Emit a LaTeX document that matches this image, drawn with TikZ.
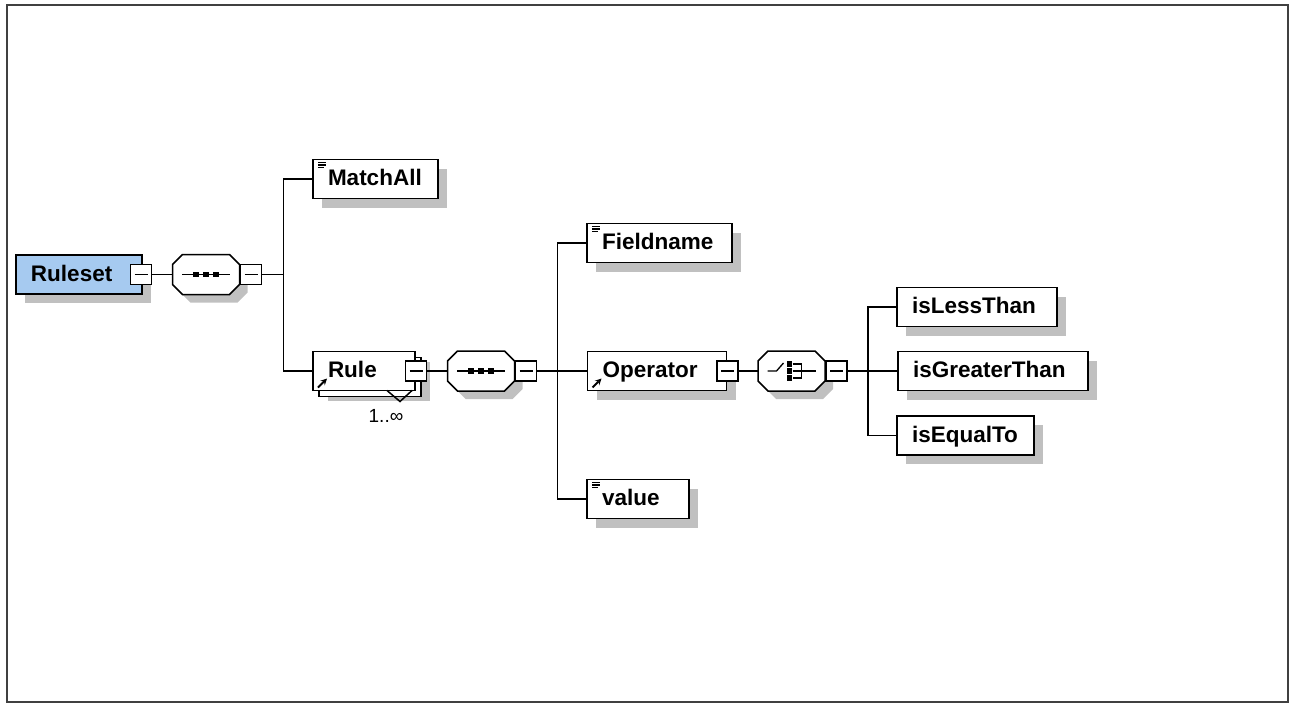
\documentclass[tikz,border=0pt]{standalone}
\usepackage{fontspec}
\setmainfont{Liberation Sans}
\usetikzlibrary{shadows, positioning, arrows}
\definecolor{shadowgray}{RGB}{192,192,192}
\definecolor{rootblue}{RGB}{166,202,240}
\definecolor{framegray}{RGB}{64,64,64}
\newcommand{\octpath}{(-33.5,-10) -- (-23.5,-20) -- (23.5,-20) -- (33.5,-10) -- (33.5,10) -- (23.5,20) -- (-23.5,20) -- (-33.5,10) -- cycle}
\tikzstyle{element} = [rectangle, draw=black, fill=white, line width=1.5pt, outer sep=0pt, minimum height=39pt, inner xsep=0pt, inner ysep=0pt, text height=17pt, text depth=4pt, align=left, font=\bfseries\fontsize{22.5}{24}\selectfont, execute at begin node={\hspace*{15pt}}]
\tikzstyle{shadowed} = [drop shadow={shadow xshift=9pt, shadow yshift=-9pt, fill=shadowgray, opacity=1}]
\tikzstyle{multiple} = [drop shadow={shadow xshift=15pt, shadow yshift=-10pt, fill=shadowgray, opacity=1}, copy shadow={shadow xshift=6pt, shadow yshift=-6pt}]
\tikzstyle{textcontent} = [path picture={\foreach \dy/\len in {3/8,5.5/8,8/6} \draw [line width=1.3pt] ([shift={(5,\dy)}]path picture bounding box.north west) -- ++(\len,0);}]
\tikzstyle{refelement} = [path picture={\draw [line width=1.8pt, ->, >=stealth] ([shift={(5,-3)}]path picture bounding box.south west) -- ++(9,-9);}]
\tikzstyle{expander} = [rectangle, draw=black, fill=white, line width=1.5pt, outer sep=0pt, minimum width=21pt, minimum height=20pt, inner sep=0pt, path picture={\draw [line width=1.2pt] ([xshift=4pt]path picture bounding box.west) -- ([xshift=-4pt]path picture bounding box.east);}]
\tikzstyle{compositor} = [rectangle, outer sep=0pt, minimum width=67pt, minimum height=40pt, inner sep=0pt, append after command={\pgfextra{
  \fill [shadowgray, shift={(\tikzlastnode.center)}, xshift=8pt, yshift=-8pt] \octpath;
  \draw [fill=white, line width=1.5pt, shift={(\tikzlastnode.center)}] \octpath;}}]
\tikzstyle{sequence} = [append after command={\pgfextra{
  \begin{scope}[shift={(\tikzlastnode.center)}]
  \draw [line width=1.3pt] (-24,0) -- (24,0);
  \foreach \dx in {-10,0,10} \fill (\dx-2.7,-2.7) rectangle (\dx+2.7,2.7);
  \end{scope}}}]
\tikzstyle{choiceicon} = [append after command={\pgfextra{
  \begin{scope}[shift={(\tikzlastnode.center)}, line width=1.3pt]
  \draw (-24,0) -- (-15,0) -- (-8,-8);
  \foreach \dy in {-7,0,7} \fill (-4.5,\dy-2.6) rectangle (0.8,\dy+2.6);
  \draw (1,-7) -- (10,-7) -- (10,7) -- (1,7);
  \draw (1,0) -- (24,0);
  \end{scope}}}]
\tikzstyle{connector} = [line width=1.5pt]

\begin{document}
\begin{tikzpicture}[x=1pt, y=-1pt]
\useasboundingbox (0,0) rectangle (1291,704);
\draw [framegray, line width=2.5pt] (7,5) rectangle (1288,702);

\node (ruleset) [element, shadowed, fill=rootblue, text width=126pt] at (79,274.5) {Ruleset};
\node (rulesetbtn) [expander] at ([xshift=-1pt]ruleset.east) {};
\node (seq1) [compositor, sequence, right=21pt of rulesetbtn] {};
\node (seq1btn) [expander, right=1pt of seq1] {};
\coordinate (j1) at ([xshift=22pt]seq1btn.east);

\node (matchall) [element, shadowed, textcontent, text width=125pt, anchor=west] at (313,179) {MatchAll};
\node (rule) [element, multiple, refelement, text width=102pt, anchor=west] at (313,371) {Rule};
\node (rulebtn) [expander] at ([xshift=1pt]rule.east) {};
\node (seq2) [compositor, sequence, right=21pt of rulebtn] {};
\node (seq2btn) [expander, right=1pt of seq2] {};
\coordinate (j2) at ([xshift=21pt]seq2btn.east);

\node (fieldname) [element, shadowed, textcontent, text width=145pt, anchor=west] at (587,243) {Fieldname};
\node (operator) [element, shadowed, refelement, text width=139pt, right=30pt of j2] {Operator};
\node (value) [element, shadowed, textcontent, text width=102pt, anchor=west] at (587,499) {value};
\node (operatorbtn) [expander] at ([xshift=1pt]operator.east) {};
\node (choice) [compositor, choiceicon, right=20pt of operatorbtn] {};
\node (choicebtn) [expander, right=1pt of choice] {};
\coordinate (j3) at ([xshift=21pt]choicebtn.east);

\node (lessthan) [element, shadowed, text width=160pt, anchor=west] at (897,307) {isLessThan};
\node (greaterthan) [element, shadowed, text width=190pt, right=30pt of j3] {isGreaterThan};
\node (equalto) [element, shadowed, text width=137pt, anchor=west] at (897,435.5) {isEqualTo};

% occurrence marker of Rule
\draw [connector] ([xshift=23pt]rule.south) -- ++(13,11) -- ++(12,-11);
\node (rulecount) [font=\fontsize{19}{20}\selectfont] at ([shift={(22,25)}]rule.south) {1..∞};

\draw [connector] (rulesetbtn) -- (seq1.west);
\draw [connector] (seq1btn) -- (j1);
\draw [connector] (matchall.west) -| (j1) |- (rule.west);
\draw [connector] (rulebtn) -- (seq2.west);
\draw [connector] (seq2btn) -- (j2);
\draw [connector] (fieldname.west) -| (j2) |- (value.west);
\draw [connector] (j2) -- (operator);
\draw [connector] (operatorbtn) -- (choice.west);
\draw [connector] (choicebtn) -- (j3);
\draw [connector] (lessthan.west) -| (j3) |- (equalto.west);
\draw [connector] (j3) -- (greaterthan);
\end{tikzpicture}
\end{document}
